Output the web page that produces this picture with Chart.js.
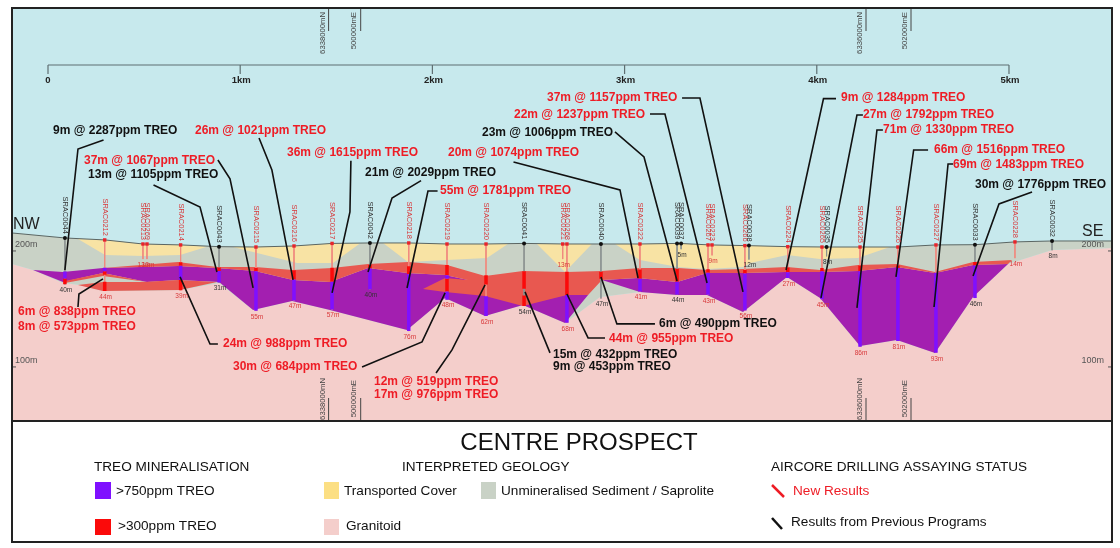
<!DOCTYPE html>
<html>
<head>
<meta charset="utf-8">
<title>Centre Prospect</title>
<script src="https://cdn.jsdelivr.net/npm/chart.js@4"></script>
<style>
  html, body { margin: 0; padding: 0; background: #fff; }
  canvas { display: block; }
</style>
</head>
<body>
<canvas id="section" width="1120" height="548"></canvas>
<script>
// drill holes: distance along section (km), collar RL (m), depth (m)
const holeNames = ["SRAC0044","SRAC0212","SRAC0213","SRAC0269","SRAC0214","SRAC0043","SRAC0215","SRAC0216","SRAC0217","SRAC0042","SRAC0218","SRAC0219","SRAC0220","SRAC0041","SRAC0221","SRAC0268","SRAC0040","SRAC0222","SRAC0039","SRAC0037","SRAC0267","SRAC0223","SRAC0266","SRAC0038","SRAC0224","SRAC0265","SRAC0035","SRAC0225","SRAC0226","SRAC0227","SRAC0033","SRAC0228","SRAC0032"];
const holeKm = [0.088,0.295,0.494,0.515,0.690,0.890,1.082,1.280,1.478,1.675,1.877,2.076,2.279,2.477,2.678,2.700,2.877,3.080,3.273,3.294,3.434,3.455,3.626,3.647,3.849,4.027,4.051,4.225,4.422,4.620,4.823,5.031,5.224];
const holeCollar = [211.2,209.5,206,206,205.2,203.7,203.4,204.3,206.5,206.9,206.9,206,206,206.5,206,206,206,206,206.5,206.5,205.2,205.2,204.6,204.6,203.7,203.4,203.4,203.4,203.4,205.2,205.4,207.8,208.6];
const holeDepth = [40,44,13,13,39,31,55,47,57,40,76,48,62,54,13,68,47,41,44,5,43,9,56,12,27,45,8,86,81,93,46,14,8];
const previousHoles = ["SRAC0044","SRAC0043","SRAC0042","SRAC0041","SRAC0040","SRAC0039","SRAC0037","SRAC0038","SRAC0035","SRAC0033","SRAC0032"];

// assay intervals: hole, from (m), to (m)
const over750 = [["SRAC0044",29,35],["SRAC0212",24,27],["SRAC0214",18,30],["SRAC0043",21,31],["SRAC0215",21,55],["SRAC0216",29,47],["SRAC0217",33,57],["SRAC0042",22,40],["SRAC0218",27,76],["SRAC0219",27,30],["SRAC0219",41,48],["SRAC0220",45,62],["SRAC0268",44,68],["SRAC0222",30,41],["SRAC0039",33,44],["SRAC0267",24,43],["SRAC0266",24,56],["SRAC0224",22,27],["SRAC0265",21,45],["SRAC0225",21,86],["SRAC0226",18,81],["SRAC0227",24,93],["SRAC0033",18,46]];
const over300 = [["SRAC0044",35,40],["SRAC0212",27,30],["SRAC0212",36,44],["SRAC0214",15,18],["SRAC0214",30,39],["SRAC0043",18,21],["SRAC0215",18,21],["SRAC0216",21,29],["SRAC0217",21,33],["SRAC0042",19,22],["SRAC0218",20,27],["SRAC0219",18,27],["SRAC0219",30,41],["SRAC0220",27,35],["SRAC0041",24,39],["SRAC0041",45,54],["SRAC0268",24,44],["SRAC0040",24,30],["SRAC0222",22,30],["SRAC0039",22,33],["SRAC0267",21,24],["SRAC0266",21,24],["SRAC0224",18,22],["SRAC0265",18,21],["SRAC0225",16,21],["SRAC0226",16,18],["SRAC0033",15,18]];

// geology outlines as [km, RL]
const surfaceProfile = [[-0.187,215.5],[0.088,211.2],[0.297,209.5],[0.494,206],[0.692,205.2],[0.890,203.7],[1.082,203.4],[1.280,204.3],[1.478,206.5],[1.675,206.9],[1.878,206.9],[2.076,206],[2.279,206],[2.477,206.5],[2.690,206],[2.877,206],[3.080,206],[3.283,206.5],[3.444,205.2],[3.637,204.6],[3.850,203.7],[4.037,203.4],[4.225,203.4],[4.422,203.4],[4.620,205.2],[4.823,205.4],[5.031,207.8],[5.224,208.6],[5.536,208.6]];
const graniteTop = [[-0.187,188.8],[-0.078,183.6],[0.078,172.4],[0.166,170.7],[0.286,165.5],[0.687,166.4],[0.890,172.4],[1.067,149.1],[1.270,156.9],[1.467,149.1],[1.868,131.9],[2.066,159.5],[2.274,143.9],[2.471,153.4],[2.690,137.9],[2.872,160.3],[3.080,164.7],[3.273,162.1],[3.429,162.1],[3.616,147.4],[3.845,177.6],[4.017,159.5],[4.225,118.1],[4.417,123.3],[4.615,112.1],[4.813,160.3],[4.995,188.8],[5.224,200.9],[5.536,202.6]];
const coverLenses = [
  [[0.156,210.3],[0.297,209.5],[0.494,206],[0.692,205.2],[0.827,203.7],[0.687,196.6],[0.494,195.7],[0.297,196.6]],
  [[0.963,203.4],[1.082,203.4],[1.280,204.3],[1.478,206.5],[1.623,206.5],[1.483,189.7],[1.296,189.7]],
  [[1.743,206.9],[1.878,206.9],[2.076,206],[2.279,206],[2.393,206],[2.284,194],[2.076,192.2],[1.873,190.5]],
  [[2.544,206],[2.690,206],[2.830,206],[2.690,181.9]],
  [[2.950,206],[3.080,206],[3.283,206.5],[3.444,205.2],[3.637,204.6],[3.850,203.7],[4.037,203.4],[4.225,203.4],[4.381,203.4],[4.214,194],[4.017,193.1],[3.845,196.6],[3.653,189.7],[3.616,186.2],[3.429,184.5],[3.278,186.2],[3.080,192.2]]
];
const highZones = [
  [[-0.078,183.6],[0.078,181.9],[0.286,185.3],[0.676,187.1],[0.879,185.3],[1.077,182.8],[1.275,175],[1.467,173.3],[1.665,185.3],[1.868,181],[2.066,179.3],[2.185,175],[2.810,176.7],[2.810,162.1],[2.690,137.9],[2.471,153.4],[2.274,143.9],[2.066,159.5],[1.868,131.9],[1.467,149.1],[1.270,156.9],[1.067,149.1],[0.890,173.3],[0.676,175],[0.515,173.3],[0.286,181],[0.078,173.3]],
  [[2.882,175],[3.070,176.7],[3.273,173.3],[3.429,181],[3.616,181],[3.835,181.9],[4.017,181.9],[4.214,182.8],[4.417,186.2],[4.615,181],[4.813,187.9],[4.995,188.8],[4.813,160.3],[4.615,112.1],[4.417,123.3],[4.225,118.1],[4.017,159.5],[3.845,177.6],[3.616,147.4],[3.429,162.1],[3.273,162.1],[3.080,164.7]]
];
const lowZones = [
  [[0.286,185.3],[0.676,190.5],[0.879,186.2],[1.077,186.2],[1.275,183.6],[1.478,185.3],[1.665,188.8],[1.873,190.5],[2.076,187.9],[2.274,178.4],[2.471,182.8],[2.700,181.9],[2.882,182.8],[3.080,185.3],[3.278,185.3],[3.429,183.6],[3.616,184.5],[3.845,186.2],[4.017,183.6],[4.214,187.9],[4.417,188.8],[4.615,181.9],[4.813,190.5],[5.016,192.2],[4.995,188.8],[4.813,187.9],[4.615,181],[4.417,186.2],[4.214,182.8],[4.017,181.9],[3.835,181.9],[3.616,181],[3.429,181],[3.273,173.3],[3.070,176.7],[2.882,175],[2.810,162.1],[2.700,162.1],[2.471,152.6],[2.274,161.2],[2.066,164.7],[1.951,167.2],[2.066,176.7],[2.185,175],[2.066,179.3],[1.868,181],[1.665,185.3],[1.467,173.3],[1.275,175],[1.077,182.8],[0.879,185.3],[0.676,187.1]],
  [[0.156,170.7],[0.286,173.3],[0.494,173.3],[0.676,175],[0.879,173.3],[0.687,166.4],[0.286,165.5]],
  [[0.088,174.1],[0.286,181],[0.515,173.3],[0.286,178.4],[0.088,172.4]]
];

// callout leaders as [km, RL]
const leaderLines = [
  [[0.289,295.7],[0.156,287.9],[0.088,183.6]],
  [[0.549,256.9],[0.791,237.9],[0.879,181.9]],
  [[0.884,278.4],[0.947,262.1],[1.067,168.1]],
  [[1.098,297.4],[1.165,269.8],[1.275,175]],
  [[1.576,277.8],[1.571,233.6],[1.478,163.8]],
  [[1.941,260.6],[1.790,245.7],[1.665,181.9]],
  [[2.027,251.7],[1.977,251.7],[1.868,168.1]],
  [[0.884,119.8],[0.843,119.8],[0.687,177.6]],
  [[1.634,100],[1.946,121.6],[2.066,163.8]],
  [[2.019,94.8],[2.102,114.7],[2.274,170.7]],
  [[2.612,112.1],[2.482,164.7]],
  [[2.898,125],[2.810,125],[2.700,162.9]],
  [[3.158,137.1],[2.960,137.1],[2.877,177.6]],
  [[0.156,151.7],[0.161,162.9],[0.286,175.9]],
  [[2.422,276.7],[2.976,252.6],[3.070,176.7]],
  [[2.950,302.6],[3.101,281],[3.273,174.1]],
  [[3.132,318.1],[3.210,318.1],[3.429,172.4]],
  [[3.299,331.9],[3.392,331.9],[3.616,164.7]],
  [[4.100,331.3],[4.035,331.3],[3.840,183.6]],
  [[4.240,317.2],[4.209,317.2],[4.022,159.5]],
  [[4.344,304.3],[4.313,304.3],[4.209,150.9]],
  [[4.579,287.1],[4.504,287.1],[4.412,177.6]],
  [[4.709,275],[4.683,275],[4.610,151.7]],
  [[5.120,250.9],[4.948,240.5],[4.813,178.4]]
];

const calloutText = ["9m @ 2287ppm TREO","26m @ 1021ppm TREO","37m @ 1067ppm TREO","13m @ 1105ppm TREO","36m @ 1615ppm TREO","21m @ 2029ppm TREO","20m @ 1074ppm TREO","55m @ 1781ppm TREO","37m @ 1157ppm TREO","22m @ 1237ppm TREO","23m @ 1006ppm TREO","9m @ 1284ppm TREO","27m @ 1792ppm TREO","71m @ 1330ppm TREO","66m @ 1516ppm TREO","69m @ 1483ppm TREO","30m @ 1776ppm TREO","6m @ 838ppm TREO","8m @ 573ppm TREO","24m @ 988ppm TREO","30m @ 684ppm TREO","12m @ 519ppm TREO","17m @ 976ppm TREO","15m @ 432ppm TREO","9m @ 453ppm TREO","44m @ 955ppm TREO","6m @ 490ppm TREO"];
const calloutPrevious = ["9m @ 2287ppm TREO","13m @ 1105ppm TREO","21m @ 2029ppm TREO","23m @ 1006ppm TREO","30m @ 1776ppm TREO","15m @ 432ppm TREO","9m @ 453ppm TREO","6m @ 490ppm TREO"];

const scaleKm = [0,1,2,3,4,5];
const scaleLabels = ["0","1km","2km","3km","4km","5km"];
const elevationTicks = [200,100];

// page layout for text, pixels on the page
const calloutPos = [[53,131],[195,131],[84,161],[88,175],[287,153],[365,173],[448,153],[440,191],[547,98],[514,115],[482,133],[841,98],[863,115],[883,130],[934,150],[953,165],[975,185],[18,312],[18,327],[223,344],[233,367],[374,382],[374,395],[553,355],[553,367],[609,339],[659,324]];
const gridMarks = [["6338000mN",328.6,323,378],["500000mE",360.7,354,380],["6336000mN",866,860,378],["502000mE",911,905,380]];

const SKY = "#c7e9ed", GRANITE = "#f4cecb", SAPROLITE = "#c9d2c6", COVER = "#f8e3a4";
const ZONE_HIGH = "#a31fb0", ZONE_LOW = "#e85850", HIGH = "#7f10ff", LOW = "#fb0a0a";
const NEW_RED = "#ee1c25", FONT = "'Liberation Sans'";

const toPts = (arr) => arr.map((p) => ({ x: p[0], y: p[1] }));
const isPrev = (name) => previousHoles.includes(name);

const datasets = [];
const addFill = (outline, color) => datasets.push({
  data: toPts(outline), showLine: true, fill: "shape", backgroundColor: color,
  borderWidth: 0, pointRadius: 0
});
const addLine = (outline, color, width) => datasets.push({
  data: toPts(outline), showLine: true, fill: false, borderColor: color,
  borderWidth: width, pointRadius: 0, borderCapStyle: "butt"
});

const X_MIN = -0.1873, X_MAX = 5.536, Y_MIN = 53.4, Y_MAX = 408.6;

// geology, back to front
addFill([...graniteTop, [X_MAX, Y_MIN], [X_MIN, Y_MIN]], GRANITE);
addFill([...surfaceProfile, ...[...graniteTop].reverse()], SAPROLITE);
coverLenses.forEach((o) => addFill(o, COVER));
highZones.forEach((o) => addFill(o, ZONE_HIGH));
lowZones.forEach((o) => addFill(o, ZONE_LOW));
addLine(surfaceProfile, "#5b6663", 1);

// hole traces and intervals
holeNames.forEach((name, i) => {
  addLine([[holeKm[i], holeCollar[i]], [holeKm[i], holeCollar[i] - holeDepth[i]]], isPrev(name) ? "#8c9391" : "#f0897f", 1);
});
const addIntervals = (list, color) => list.forEach(([name, from, to]) => {
  const i = holeNames.indexOf(name);
  addLine([[holeKm[i], holeCollar[i] - from], [holeKm[i], holeCollar[i] - to]], color, 3.5);
});
addIntervals(over300, LOW);
addIntervals(over750, HIGH);

// collars
datasets.push({
  data: holeNames.map((n, i) => ({ x: holeKm[i], y: holeCollar[i] })),
  showLine: false,
  pointStyle: holeNames.map((n) => (isPrev(n) ? "circle" : "rect")),
  pointRadius: holeNames.map((n) => (isPrev(n) ? 2 : 2.4)),
  pointBackgroundColor: holeNames.map((n) => (isPrev(n) ? "#111" : "#e8242a")),
  pointBorderWidth: 0
});

// scale bar
const BAR_RL = 360.3, BAR_TICK = 352.6;
addLine([[scaleKm[0], BAR_RL], [scaleKm[scaleKm.length - 1], BAR_RL]], "#5f6f72", 1.2);
scaleKm.forEach((k) => addLine([[k, BAR_RL], [k, BAR_TICK]], "#5f6f72", 1.2));

// leaders on top
leaderLines.forEach((o) => addLine(o, "#111", 1.6));

datasets.forEach((d, i) => { d.order = -i; });

const sectionDecor = {
  id: "sectionDecor",
  beforeDatasetsDraw(chart) {
    const { ctx, chartArea: a } = chart;
    ctx.save();
    ctx.fillStyle = SKY;
    ctx.fillRect(a.left, a.top, a.width, a.height);
    ctx.restore();
  },
  afterDatasetsDraw(chart) {
    const { ctx, chartArea: a, scales: { x, y } } = chart;
    ctx.save();
    ctx.textBaseline = "middle";

    // hole names and depths
    holeNames.forEach((name, i) => {
      const px = x.getPixelForValue(holeKm[i]);
      const top = y.getPixelForValue(holeCollar[i]);
      const bottom = y.getPixelForValue(holeCollar[i] - holeDepth[i]);
      const col = isPrev(name) ? "#333" : "#d8383a";
      ctx.fillStyle = col;
      ctx.font = "7.5px " + FONT;
      ctx.save();
      ctx.translate(px, top - 4);
      ctx.rotate(Math.PI / 2);
      ctx.textAlign = "right";
      ctx.fillText(name, 0, 0);
      ctx.restore();
      ctx.textAlign = "center";
      ctx.font = "6.5px " + FONT;
      ctx.fillText(holeDepth[i] + "m", px + 1, bottom + 6);
    });

    // scale bar labels
    ctx.fillStyle = "#222";
    ctx.font = "bold 9.5px " + FONT;
    ctx.textAlign = "center";
    scaleKm.forEach((k, i) => {
      ctx.fillText(scaleLabels[i], x.getPixelForValue(k) + (i ? 1 : 0), 80);
    });

    // elevation ticks both sides
    ctx.font = "9px " + FONT;
    ctx.fillStyle = "#555";
    ctx.strokeStyle = "#555";
    ctx.lineWidth = 1;
    elevationTicks.forEach((t) => {
      const py = y.getPixelForValue(t);
      ctx.beginPath();
      ctx.moveTo(a.left, py); ctx.lineTo(a.left + 4, py);
      ctx.moveTo(a.right - 4, py); ctx.lineTo(a.right, py);
      ctx.stroke();
      ctx.textAlign = "left";
      ctx.fillText(t + "m", a.left + 3, py - 6);
      ctx.textAlign = "right";
      ctx.fillText(t + "m", a.right - 8, py - 6);
    });

    // section ends
    ctx.fillStyle = "#222";
    ctx.font = "16px " + FONT;
    ctx.textAlign = "left";
    ctx.fillText("NW", 13, 225);
    ctx.fillText("SE", 1082, 232);

    // grid marks, top and bottom of the section, read bottom to top
    ctx.font = "7.7px " + FONT;
    ctx.strokeStyle = "#444";
    gridMarks.forEach(([label, lineX, textX, lowStart]) => {
      ctx.beginPath();
      ctx.moveTo(lineX, a.top); ctx.lineTo(lineX, 31);
      ctx.moveTo(lineX, 398); ctx.lineTo(lineX, a.bottom);
      ctx.stroke();
      ctx.fillStyle = "#444";
      [12, lowStart].forEach((start) => {
        ctx.save();
        ctx.translate(textX, start);
        ctx.rotate(-Math.PI / 2);
        ctx.textAlign = "right";
        ctx.fillText(label, 0, 0);
        ctx.restore();
      });
    });

    // callouts
    ctx.font = "bold 12px " + FONT;
    ctx.textAlign = "left";
    calloutText.forEach((t, i) => {
      ctx.fillStyle = calloutPrevious.includes(t) ? "#111" : NEW_RED;
      ctx.fillText(t, calloutPos[i][0], calloutPos[i][1]);
    });

    // frame
    ctx.strokeStyle = "#222";
    ctx.lineWidth = 2;
    ctx.strokeRect(12, 8, 1100, 534);
    ctx.beginPath();
    ctx.moveTo(12, a.bottom); ctx.lineTo(1112, a.bottom);
    ctx.stroke();

    // legend panel
    const swatch = (px, py, w, h, color) => { ctx.fillStyle = color; ctx.fillRect(px, py, w, h); };
    const text = (s, px, py, color) => { ctx.fillStyle = color || "#111"; ctx.fillText(s, px, py); };
    ctx.font = "24px " + FONT;
    ctx.textAlign = "center";
    text("CENTRE PROSPECT", 579, 443);
    ctx.textAlign = "left";
    ctx.font = "13.6px " + FONT;
    text("TREO MINERALISATION", 94, 467);
    text("INTERPRETED GEOLOGY", 402, 467);
    text("AIRCORE DRILLING ASSAYING STATUS", 771, 467);
    swatch(95, 482, 16, 17, HIGH);
    text(">750ppm TREO", 116, 491);
    swatch(95, 519, 16, 16, LOW);
    text(">300ppm TREO", 118, 526);
    swatch(324, 482, 15, 17, "#fcdf83");
    text("Transported Cover", 344, 491);
    swatch(481, 482, 15, 17, SAPROLITE);
    text("Unmineralised Sediment / Saprolite", 501, 491);
    swatch(324, 519, 15, 16, GRANITE);
    text("Granitoid", 346, 526);
    text("New Results", 793, 491, NEW_RED);
    text("Results from Previous Programs", 791, 522);
    ctx.lineWidth = 2.5;
    ctx.strokeStyle = NEW_RED;
    ctx.beginPath(); ctx.moveTo(772, 485); ctx.lineTo(784, 497); ctx.stroke();
    ctx.strokeStyle = "#111";
    ctx.beginPath(); ctx.moveTo(772, 518); ctx.lineTo(782, 529); ctx.stroke();
    ctx.restore();
  }
};

new Chart(document.getElementById("section"), {
  type: "scatter",
  data: { datasets },
  options: {
    responsive: false,
    animation: false,
    devicePixelRatio: 1,
    layout: { padding: { left: 12, top: 9, right: 8, bottom: 127 } },
    scales: {
      x: { type: "linear", min: X_MIN, max: X_MAX, display: false },
      y: { type: "linear", min: Y_MIN, max: Y_MAX, display: false }
    },
    plugins: { legend: { display: false }, tooltip: { enabled: false } }
  },
  plugins: [sectionDecor]
});
</script>
</body>
</html>
